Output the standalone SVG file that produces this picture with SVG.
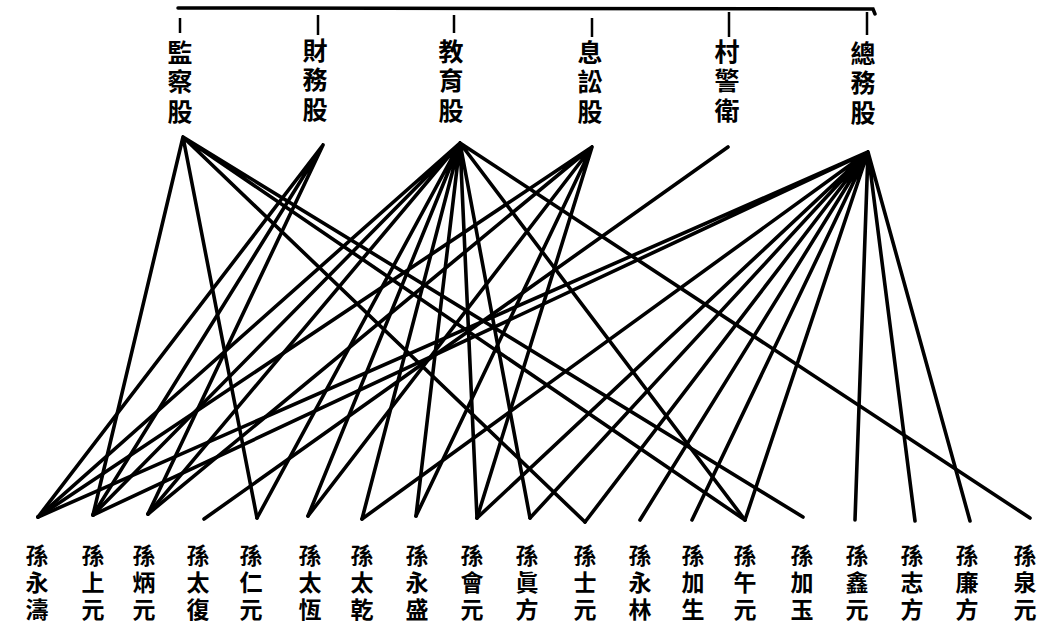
<svg xmlns="http://www.w3.org/2000/svg" width="1043" height="631" viewBox="0 0 1043 631">
<style>
.bg{fill:#ffffff}
.hd{stroke:#000;stroke-width:3.5;fill:none;stroke-linecap:round}
.tk{stroke:#000;stroke-width:2.5;fill:none}
.ln{stroke:#000;stroke-width:3.6;fill:none;stroke-linecap:round}
.t{font-family:"Liberation Sans","Noto Sans CJK TC","Noto Sans CJK SC",sans-serif;font-weight:700;fill:#000;text-anchor:middle}
.top{font-size:25px}
.bot{font-size:23px}
</style>
<rect class="bg" x="0" y="0" width="1043" height="631"/>
<g id="header">
<path class="hd" d="M178 8 L873 9 L875 14"/>
<path class="tk" d="M180 18 V33 M318 15 V35 M454 15 V33 M592 18 V37 M729 12 V37 M867 12 V35"/>
</g>
<g id="connectors">
<path class="ln" d="M183 137 L93 515 M183 137 L257 518 M183 137 L585 522 M183 137 L745 520 M183 137 L803 517"/>
<path class="ln" d="M323 145 L38 517 M323 145 L93 515 M323 145 L148 514"/>
<path class="ln" d="M460 143 L38 517 M460 143 L93 515 M460 143 L148 514 M460 143 L257 518 M460 143 L308 516 M460 143 L362 519 M460 143 L416 516 M460 143 L477 518 M460 143 L530 518 M460 143 L745 520 M460 143 L1030 518"/>
<path class="ln" d="M592 147 L38 517 M592 147 L148 514 M592 147 L308 516 M592 147 L416 516 M592 147 L477 518"/>
<path class="ln" d="M728 147 L204 519"/>
<path class="ln" d="M868 152 L38 517 M868 152 L93 515 M868 152 L362 519 M868 152 L477 518 M868 152 L530 518 M868 152 L585 522 M868 152 L640 520 M868 152 L692 520 M868 152 L745 520 M868 152 L855 520 M868 152 L915 521 M868 152 L970 521"/>
</g>
<g id="d1"><text class="t top" x="180" y="61.5">監</text><text class="t top" x="180" y="91">察</text><text class="t top" x="180" y="120.5">股</text></g>
<g id="d2"><text class="t top" x="315" y="59.5">財</text><text class="t top" x="315" y="89">務</text><text class="t top" x="315" y="118.5">股</text></g>
<g id="d3"><text class="t top" x="451" y="60.5">教</text><text class="t top" x="451" y="90">育</text><text class="t top" x="451" y="119.5">股</text></g>
<g id="d4"><text class="t top" x="590" y="61.5">息</text><text class="t top" x="590" y="91">訟</text><text class="t top" x="590" y="120.5">股</text></g>
<g id="d5"><text class="t top" x="727" y="60.5">村</text><text class="t top" x="727" y="90">警</text><text class="t top" x="727" y="119.5">衛</text></g>
<g id="d6"><text class="t top" x="863" y="62.5">總</text><text class="t top" x="863" y="92">務</text><text class="t top" x="863" y="121.5">股</text></g>
<g id="p1"><text class="t bot" x="37" y="563.5">孫</text><text class="t bot" x="37" y="590.5">永</text><text class="t bot" x="37" y="617.5">濤</text></g>
<g id="p2"><text class="t bot" x="93" y="563.5">孫</text><text class="t bot" x="93" y="590.5">上</text><text class="t bot" x="93" y="617.5">元</text></g>
<g id="p3"><text class="t bot" x="144" y="563.5">孫</text><text class="t bot" x="144" y="590.5">炳</text><text class="t bot" x="144" y="617.5">元</text></g>
<g id="p4"><text class="t bot" x="198" y="563.5">孫</text><text class="t bot" x="198" y="590.5">太</text><text class="t bot" x="198" y="617.5">復</text></g>
<g id="p5"><text class="t bot" x="251" y="563.5">孫</text><text class="t bot" x="251" y="590.5">仁</text><text class="t bot" x="251" y="617.5">元</text></g>
<g id="p6"><text class="t bot" x="310" y="563.5">孫</text><text class="t bot" x="310" y="590.5">太</text><text class="t bot" x="310" y="617.5">恆</text></g>
<g id="p7"><text class="t bot" x="362" y="563.5">孫</text><text class="t bot" x="362" y="590.5">太</text><text class="t bot" x="362" y="617.5">乾</text></g>
<g id="p8"><text class="t bot" x="417" y="563.5">孫</text><text class="t bot" x="417" y="590.5">永</text><text class="t bot" x="417" y="617.5">盛</text></g>
<g id="p9"><text class="t bot" x="472" y="563.5">孫</text><text class="t bot" x="472" y="590.5">會</text><text class="t bot" x="472" y="617.5">元</text></g>
<g id="p10"><text class="t bot" x="527" y="563.5">孫</text><text class="t bot" x="527" y="590.5">眞</text><text class="t bot" x="527" y="617.5">方</text></g>
<g id="p11"><text class="t bot" x="585" y="563.5">孫</text><text class="t bot" x="585" y="590.5">士</text><text class="t bot" x="585" y="617.5">元</text></g>
<g id="p12"><text class="t bot" x="640" y="563.5">孫</text><text class="t bot" x="640" y="590.5">永</text><text class="t bot" x="640" y="617.5">林</text></g>
<g id="p13"><text class="t bot" x="693" y="563.5">孫</text><text class="t bot" x="693" y="590.5">加</text><text class="t bot" x="693" y="617.5">生</text></g>
<g id="p14"><text class="t bot" x="745" y="563.5">孫</text><text class="t bot" x="745" y="590.5">午</text><text class="t bot" x="745" y="617.5">元</text></g>
<g id="p15"><text class="t bot" x="802" y="563.5">孫</text><text class="t bot" x="802" y="590.5">加</text><text class="t bot" x="802" y="617.5">玉</text></g>
<g id="p16"><text class="t bot" x="857" y="563.5">孫</text><text class="t bot" x="857" y="590.5">鑫</text><text class="t bot" x="857" y="617.5">元</text></g>
<g id="p17"><text class="t bot" x="912" y="563.5">孫</text><text class="t bot" x="912" y="590.5">志</text><text class="t bot" x="912" y="617.5">方</text></g>
<g id="p18"><text class="t bot" x="967" y="563.5">孫</text><text class="t bot" x="967" y="590.5">廉</text><text class="t bot" x="967" y="617.5">方</text></g>
<g id="p19"><text class="t bot" x="1025" y="563.5">孫</text><text class="t bot" x="1025" y="590.5">泉</text><text class="t bot" x="1025" y="617.5">元</text></g>
</svg>
